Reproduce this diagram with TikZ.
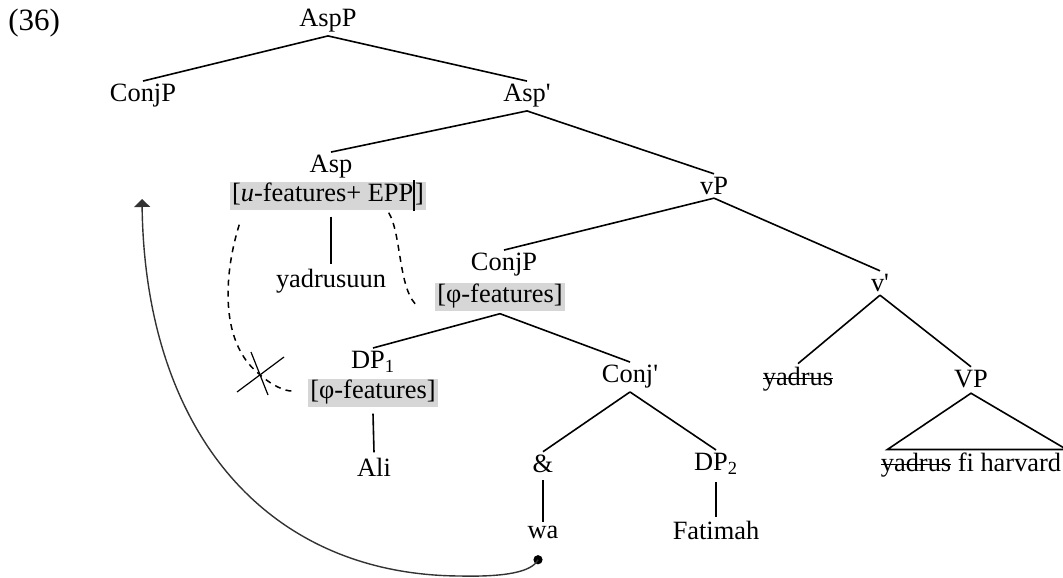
\documentclass[tikz,border=0pt]{standalone}
\usepackage{fontspec}
\newfontfamily\treefont{Liberation Serif}
\usetikzlibrary{arrows.meta,calc}
\definecolor{featgray}{RGB}{214,214,214}
% struck-through word
\newsavebox{\strkbox}
\newcommand{\strk}[1]{\sbox{\strkbox}{#1}\rlap{\rule[0.24em]{\wd\strkbox}{0.65pt}}\usebox{\strkbox}}

\begin{document}
\begin{tikzpicture}[x=0.5pt,y=-0.5pt,
  every node/.style={font=\treefont\fontsize{13.2}{15}\selectfont, inner sep=1.5pt},
  feat/.style={fill=featgray, inner xsep=1.2pt, inner ysep=0.8pt,
               text height=9.3pt, text depth=3.4pt},
  branch/.style={line width=0.8pt},
  agree/.style={line width=0.75pt, dash pattern=on 3pt off 2.6pt},
  crossout/.style={line width=0.6pt},
  move/.style={line width=0.7pt, draw=black!80}]
\useasboundingbox (0,0) rectangle (1063,577);

% example number
\node[anchor=west, font=\treefont\fontsize{15.5}{18}\selectfont] (num) at (5,23) {(36)};

% labels of the tree
\node (aspP)     at (328,21)  {AspP};
\node (conjPa)   at (143,96)  {ConjP};
\node (aspbar)   at (527,96)  {Asp'};
\node (asp)      at (331,167) {Asp};
\node[feat] (aspF) at (328,196)
  {[\textit{u}-features+ EPP\smash{\rule[-4.6pt]{0.9pt}{15.6pt}}]};
\node (vP)       at (714,186) {vP};
\node (yadrusuun) at (331,281) {yadrusuun};
\node (conjPb)   at (504,265) {ConjP};
\node[feat] (conjF) at (500,297) {[φ-features]};
\node (vbar)     at (880,283) {v'};
\node (dpa)      at (373,362) {DP\textsubscript{1}};
\node[feat] (dpaF) at (373,393) {[φ-features]};
\node (conjbar)  at (630,377) {Conj'};
\node (yadrusv)  at (798,379) {\strk{yadrus}};
\node (VP)       at (971,379) {VP};
\node (ali)      at (374,467) {Ali};
\node (amp)      at (543,464) {\&};
\node (dpb)      at (716,464) {DP\textsubscript{2}};
\node (wa)       at (543,532) {wa};
\node (fatimah)  at (716,530) {Fatimah};
\node (vpText)   at (971,465) {\strk{yadrus} fi harvard};

% branches
\draw[branch] (aspP.south) -- (conjPa.north);
\draw[branch] (aspP.south) -- (aspbar.north);
\draw[branch] (aspbar.south) -- (asp.north);
\draw[branch] (aspbar.south) -- (vP.north);
\draw[branch] ([xshift=1.5pt,yshift=-3pt]aspF.south) -- ([yshift=1pt]yadrusuun.north);
\draw[branch] (vP.south) -- (conjPb.north);
\draw[branch] (vP.south) -- (vbar.north);
\draw[branch] ([yshift=-1pt]conjF.south) -- (dpa.north);
\draw[branch] ([yshift=-1pt]conjF.south) -- (conjbar.north);
\draw[branch] (vbar.south) -- (yadrusv.north);
\draw[branch] (vbar.south) -- (VP.north);
\draw[branch] ([yshift=-3pt]dpaF.south) -- ([yshift=1pt]ali.north);
\draw[branch] (conjbar.south) -- (amp.north);
\draw[branch] (conjbar.south) -- (dpb.north);
\draw[branch] ([yshift=-2pt]amp.south) -- (wa.north);
\draw[branch] ([yshift=-2pt]dpb.south) -- (fatimah.north);

% triangle over the VP material
\coordinate (triL) at ([xshift=5pt]vpText.north west);
\coordinate (triR) at ([xshift=1pt]vpText.north east);
\draw[branch, line join=miter] ([yshift=-1pt]VP.south) -- (triL) -- (triR) -- cycle;

% Agree relations
\coordinate (agL) at ([xshift=5pt,yshift=-7pt]aspF.south west);
\coordinate (agDP) at ([xshift=-8pt,yshift=1pt]dpaF.west);
\draw[agree] (agL) .. controls (225,270) and (218,340) .. (258,373)
                   .. controls (272,386) and (285,391) .. (agDP);
\coordinate (agR) at ([xshift=-19pt,yshift=-1pt]aspF.south east);
\coordinate (agConj) at ([xshift=-8pt,yshift=-5pt]conjF.west);
\draw[agree] (agR) .. controls (402,235) and (398,292) .. (agConj);

% failed agreement
\coordinate (xc) at (259,374);
\draw[crossout] ($(xc)+(-22,18)$) -- ($(xc)+(25,-17)$);
\draw[crossout] ($(xc)+(-8,-22)$) -- ($(xc)+(9,21)$);

% movement of the first conjunct
\coordinate (moveTo) at (142,199);
\fill[black] ([xshift=-2.5pt,yshift=-9pt]wa.south) coordinate (dot) circle (2.3pt);
\draw[move, -{Triangle[length=4pt,width=8pt]}]
  (dot) .. controls (532,572) and (505,577) .. (460,576)
        .. controls (265,575) and (145,430) .. (moveTo);
\end{tikzpicture}
\end{document}
